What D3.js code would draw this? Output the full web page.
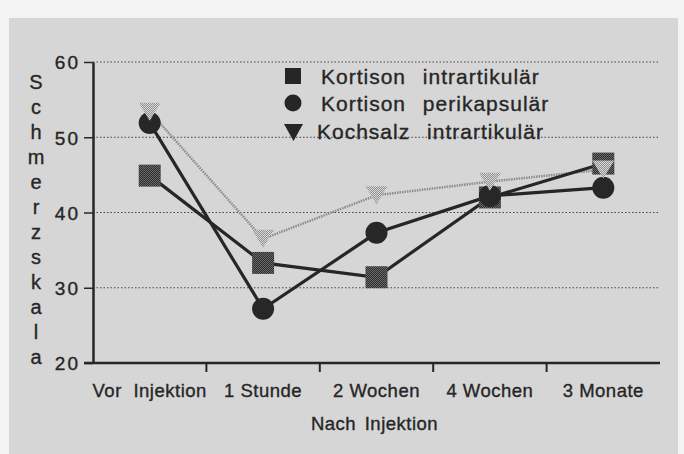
<!DOCTYPE html>
<html>
<head>
<meta charset="utf-8">
<script src="https://cdn.jsdelivr.net/npm/d3@7"></script>
<style>
  body { margin: 0; background: #f3f3f3; }
  svg { display: block; font-family: "Liberation Sans", Arial, sans-serif; }
  svg text { stroke: #262626; stroke-width: 0.35px; }
</style>
</head>
<body>
<svg id="drawing_region"></svg>
<script>
// values
const categories = ["Vor Injektion", "1 Stunde", "2 Wochen", "4 Wochen", "3 Monate"];
const seriesNames = ["Kortison intrartikulär", "Kortison perikapsulär", "Kochsalz intrartikulär"];
const kortisonIntra = [44.9, 33.3, 31.4, 42.0, 46.5];
const kortisonPeri = [51.9, 27.2, 37.3, 42.2, 43.3];
const kochsalzIntra = [53.4, 36.5, 42.3, 44.1, 45.7];
const yTicks = [20, 30, 40, 50, 60];
const gridTicks = [30, 40, 50, 60];
const yTitle = "Schmerzskala";
const xTitle = "Nach Injektion";

class LineChart {

    constructor( config ) {
        this.config = {
            parent: config.parent,
            width: config.width || 684,
            height: config.height || 454,
            margin: config.margin || {top:62, right:24, bottom:91, left:93}
        }
        this.init();
    }

    init() {
        let self = this;

        self.svg = d3.select( self.config.parent )
            .attr('width', self.config.width)
            .attr('height', self.config.height);

        // stipple fills like the old dot printer
        const defs = self.svg.append('defs');
        const stip = (id, a, b) => {
            const p = defs.append('pattern').attr('id', id)
                .attr('width', 2).attr('height', 2).attr('patternUnits', 'userSpaceOnUse');
            p.append('rect').attr('width', 2).attr('height', 2).attr('fill', a);
            p.append('rect').attr('width', 1).attr('height', 1).attr('fill', b);
            p.append('rect').attr('x', 1).attr('y', 1).attr('width', 1).attr('height', 1).attr('fill', b);
        };
        stip('darkdots', '#2e2e2e', '#6a6a6a');
        stip('lightdots', '#8e8e8e', '#dadada');

        // paper
        self.svg.append('rect')
            .attr('x', 9).attr('y', 18)
            .attr('width', 669).attr('height', 436)
            .attr('fill', '#d6d6d6');

        const m = self.config.margin;
        self.xscale = d3.scaleBand()
            .domain(categories)
            .range([m.left, self.config.width - m.right])
            .paddingInner(0).paddingOuter(0);

        self.yscale = d3.scaleLinear()
            .domain([20, 60])
            .range([self.config.height - m.bottom, m.top]);
    }

    update() {
        let self = this;
        self.render();
    }

    render() {
        let self = this;
        const x = self.xscale, y = self.yscale;
        const cx = d => x(d) + x.bandwidth() / 2;
        const x0 = x.range()[0], x1 = x.range()[1];
        const ink = '#262626';

        // dotted grid
        self.svg.append('g').selectAll('line')
            .data(gridTicks).join('line')
            .attr('x1', x0).attr('x2', x1 - 2)
            .attr('y1', d => y(d)).attr('y2', d => y(d))
            .attr('stroke', '#444').attr('stroke-width', 1)
            .attr('stroke-dasharray', '1.5,2');

        // y axis
        const yaxis = d3.axisLeft(y).tickValues(yTicks).tickSize(9).tickSizeOuter(0)
            .tickPadding(6);
        const yg = self.svg.append('g')
            .attr('transform', `translate(${x0},0)`)
            .call(yaxis);
        yg.select('.domain').attr('stroke', ink).attr('stroke-width', 2.5);
        yg.selectAll('.tick line').attr('stroke', ink).attr('stroke-width', 1.5);
        yg.selectAll('.tick text')
            .attr('fill', ink).attr('font-size', 19)
            .attr('letter-spacing', 2).attr('dx', 2).attr('dy', '0.36em');

        // x axis: line, ticks at band edges, labels centred in bands
        self.svg.append('line')
            .attr('x1', x0 - 9).attr('x2', x1)
            .attr('y1', y(20)).attr('y2', y(20))
            .attr('stroke', ink).attr('stroke-width', 2.5);
        self.svg.append('g').selectAll('line')
            .data(categories.slice(1)).join('line')
            .attr('x1', d => x(d)).attr('x2', d => x(d))
            .attr('y1', y(20)).attr('y2', y(20) + 9)
            .attr('stroke', ink).attr('stroke-width', 2);
        self.svg.append('g').selectAll('text')
            .data(categories).join('text')
            .attr('x', cx).attr('y', y(20) + 34)
            .attr('text-anchor', 'middle')
            .attr('font-size', 18.5).attr('letter-spacing', 0.5)
            .attr('word-spacing', d => d === categories[0] ? 6 : 0)
            .attr('fill', ink)
            .text(d => d);

        self.svg.append('text')
            .attr('x', (x0 + x1) / 2 - 2).attr('y', y(20) + 67)
            .attr('text-anchor', 'middle')
            .attr('font-size', 18.5).attr('letter-spacing', 0.5).attr('word-spacing', 3)
            .attr('fill', ink)
            .text(xTitle);

        // y title, one letter per line
        self.svg.append('g').selectAll('text')
            .data(yTitle.split('')).join('text')
            .attr('x', 36).attr('y', (d, i) => 89 + i * 25)
            .attr('text-anchor', 'middle')
            .attr('font-size', 20).attr('fill', ink)
            .text(d => d);

        // lines
        const line = d3.line().x((d, i) => cx(categories[i])).y(d => y(d));
        self.svg.append('path').datum(kochsalzIntra)
            .attr('d', line).attr('fill', 'none')
            .attr('stroke', '#8c8c8c').attr('stroke-width', 2.5)
            .attr('stroke-dasharray', '1.5,1');
        self.svg.append('path').datum(kortisonIntra)
            .attr('d', line).attr('fill', 'none')
            .attr('stroke', ink).attr('stroke-width', 3.2);
        self.svg.append('path').datum(kortisonPeri)
            .attr('d', line).attr('fill', 'none')
            .attr('stroke', ink).attr('stroke-width', 3.2);

        // markers
        const sq = 22, r = 11, tw = 22, th = 18;
        const tri = (px, py) => `M${px - tw/2},${py - th/2}L${px + tw/2},${py - th/2}L${px},${py + th/2}Z`;

        self.svg.append('g').selectAll('rect')
            .data(kortisonIntra).join('rect')
            .attr('x', (d, i) => cx(categories[i]) - sq/2)
            .attr('y', d => y(d) - sq/2)
            .attr('width', sq).attr('height', sq)
            .attr('fill', 'url(#darkdots)');
        self.svg.append('g').selectAll('circle')
            .data(kortisonPeri).join('circle')
            .attr('cx', (d, i) => cx(categories[i]))
            .attr('cy', d => y(d))
            .attr('r', r)
            .attr('fill', '#272727');
        self.svg.append('g').selectAll('path')
            .data(kochsalzIntra).join('path')
            .attr('d', (d, i) => tri(cx(categories[i]), y(d)))
            .attr('fill', 'url(#lightdots)');

        // legend
        const lg = self.svg.append('g');
        const rows = [76, 103, 131];
        lg.append('rect').attr('x', 285).attr('y', rows[0] - 8).attr('width', 16).attr('height', 16).attr('fill', ink);
        lg.append('circle').attr('cx', 293).attr('cy', rows[1]).attr('r', 8.5).attr('fill', ink);
        lg.append('path').attr('d', `M284,${rows[2] - 7}L303,${rows[2] - 7}L293.5,${rows[2] + 10}Z`).attr('fill', ink);
        lg.selectAll('text')
            .data(seriesNames).join('text')
            .attr('x', (d, i) => i === 2 ? 317 : 321)
            .attr('y', (d, i) => rows[i] + 8)
            .attr('font-size', 21).attr('letter-spacing', 1).attr('word-spacing', 10)
            .attr('fill', ink)
            .text(d => d);
    }
}

const chart = new LineChart({ parent: '#drawing_region', width: 684, height: 454 });
chart.update();
</script>
</body>
</html>
